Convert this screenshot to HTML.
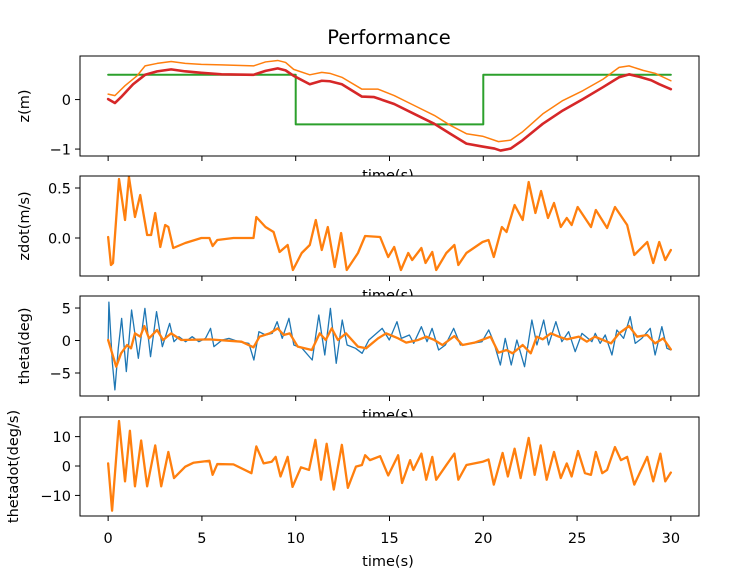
<!DOCTYPE html>
<html><head><meta charset="utf-8"><style>
html,body{margin:0;padding:0;background:#fff;}
svg{display:block;font-family:"DejaVu Sans","Liberation Sans",sans-serif;}
</style></head><body>
<svg id="fig" width="734" height="569" viewBox="0 0 734 569">
<text x="389" y="44" font-size="19.5" text-anchor="middle">Performance</text>
</svg>
<script>
// ---- Panel 1: z(m)
const zRefT = [0, 10, 10, 20, 20, 30];
const zRefV = [0.5, 0.5, -0.5, -0.5, 0.5, 0.5];
const zRedT = [0,0.36,0.69,1.33,1.97,2.61,3.36,4.11,4.97,6.04,7.75,8.39,9.04,9.46,9.89,10.75,11.39,11.82,12.46,13.53,14.18,15.25,16.32,17.39,18.24,19.1,19.96,20.6,20.92,21.46,22.1,23.17,24.24,25.31,26.38,27.24,27.77,28.31,28.95,29.38,30];
const zRedV = [0.01,-0.07,0.05,0.31,0.5,0.57,0.61,0.57,0.54,0.51,0.5,0.58,0.63,0.59,0.48,0.31,0.38,0.37,0.31,0.06,0.05,-0.09,-0.29,-0.49,-0.69,-0.89,-0.95,-0.99,-1.03,-0.99,-0.82,-0.49,-0.22,0.01,0.25,0.45,0.51,0.46,0.39,0.31,0.21];
const zOrgT = [0,0.36,0.9,1.54,1.97,2.61,3.36,4.11,4.97,6.04,7.75,8.39,9.04,9.46,9.89,10.75,11.39,11.82,12.46,13.53,14.39,15.25,16.32,17.39,18.24,19.1,19.96,20.81,21.46,22.1,23.17,24.24,25.31,26.38,27.24,27.77,28.52,29.16,30];
const zOrgV = [0.11,0.08,0.28,0.48,0.68,0.73,0.77,0.73,0.71,0.7,0.68,0.76,0.79,0.75,0.61,0.5,0.55,0.53,0.45,0.21,0.21,0.08,-0.12,-0.32,-0.52,-0.69,-0.74,-0.85,-0.82,-0.65,-0.29,-0.02,0.18,0.41,0.65,0.68,0.59,0.53,0.38];
// ---- Panel 2: zdot
const zdT = [0,0.15,0.26,0.58,0.9,1.11,1.43,1.71,2.08,2.29,2.51,2.78,3.04,3.21,3.47,4.11,4.97,5.4,5.57,5.82,6.68,7.75,7.9,8.39,8.82,9.14,9.57,9.85,10.32,10.75,11.07,11.39,11.71,12.08,12.42,12.72,13.32,13.7,14.5,14.93,15.25,15.61,16,16.21,16.7,16.92,17.28,17.49,18.03,18.46,18.67,19.1,19.96,20.28,20.56,20.99,21.24,21.67,22.1,22.42,22.78,23.08,23.45,23.77,24.13,24.45,24.71,25.03,25.74,26,26.6,27.02,27.67,28.05,28.74,29.06,29.38,29.7,30];
const zdV = [0.01,-0.27,-0.25,0.59,0.18,0.61,0.21,0.43,0.03,0.03,0.25,-0.09,0.13,0.11,-0.1,-0.05,0,0,-0.08,-0.02,0,0,0.21,0.11,0.06,-0.14,-0.07,-0.32,-0.15,-0.07,0.18,-0.12,0.11,-0.29,0.05,-0.32,-0.15,0.02,0.01,-0.19,-0.09,-0.32,-0.15,-0.22,-0.1,-0.25,-0.14,-0.32,-0.15,-0.07,-0.27,-0.15,-0.04,-0.02,-0.19,0.11,0.06,0.33,0.18,0.56,0.25,0.47,0.2,0.35,0.11,0.2,0.13,0.31,0.11,0.28,0.1,0.31,0.13,-0.17,-0.04,-0.25,-0.04,-0.22,-0.12];
// ---- Panel 3: theta
const thBlueT = [0,0.04,0.22,0.36,0.54,0.72,0.97,1.25,1.61,1.96,2.26,2.58,2.89,3.28,3.51,3.77,4.13,4.48,4.84,5.19,5.46,5.64,6.08,6.44,6.97,7.5,7.77,8.04,8.39,8.75,9.01,9.28,9.64,9.9,10.34,10.88,11.23,11.55,11.85,12.16,12.48,12.74,13.19,13.54,13.9,14.61,14.99,15.4,15.63,16.06,16.29,16.7,17.0,17.27,17.62,17.98,18.42,18.78,19.4,19.93,20.29,20.55,20.91,21.17,21.49,21.79,22.2,22.59,22.86,23.22,23.48,23.87,24.19,24.55,24.9,25.26,25.79,25.97,26.23,26.5,26.86,27.12,27.48,27.83,28.1,28.45,28.9,29.16,29.52,29.79,30];
const thBlueV = [0.08,5.9,-3.26,-7.6,-1.2,3.41,-4.79,4.69,-2.74,4.95,-2.49,4.44,-0.95,2.64,-0.18,0.59,-0.18,0.59,-0.18,0.33,1.87,-0.95,0.08,0.33,-0.18,-0.44,-3.0,1.36,0.85,1.1,2.9,0.33,3.41,-0.69,-1.2,-3.0,3.92,-2.23,4.95,-3.51,3.15,-0.69,-1.2,-1.97,0.08,1.87,0.08,2.9,0.33,0.85,-0.44,2.13,-0.18,1.87,-1.46,-0.69,1.87,-0.69,-0.44,-0.18,1.62,-0.18,-3.77,0.33,-3.77,0.08,-4.03,3.15,-0.69,3.15,-0.69,2.9,-0.18,1.36,-1.72,1.1,-0.18,1.1,-0.44,0.85,-2.23,1.62,0.33,3.67,-0.44,0.33,1.87,-2.23,2.13,-1.2,-1.46];
const thOrgT = [0,0.43,0.69,1.01,1.22,1.43,1.71,1.93,2.18,2.61,2.93,3.36,3.9,5.4,7.11,7.75,8.07,8.61,9.04,9.36,9.68,10.11,10.86,11.28,11.6,11.92,12.25,12.68,13.32,13.75,14.39,14.82,15.46,15.89,16.53,16.96,17.39,17.82,18.46,18.89,19.53,20.39,20.81,21.24,21.56,22.1,22.53,22.85,23.17,23.6,24.03,24.45,25.1,25.52,25.95,26.81,27.24,27.77,28.2,28.74,29.16,29.59,30];
const thOrgV = [0.08,-4.03,-1.97,-0.69,-1.2,1.1,0.59,2.23,0.33,1.62,0.08,1.1,0.08,0.18,-0.18,-1.05,0.59,1.1,1.87,0.85,1.1,-0.95,-1.46,1.1,0.08,1.87,0.08,1.1,-0.95,-1.2,0.33,1.1,0.33,-0.33,0.08,0.59,0.08,-0.69,0.69,-0.69,-0.33,0.59,-1.87,-1.46,-1.97,-0.69,-1.97,0.59,0.18,1.1,0.59,0.18,0.59,-0.18,0.59,-0.44,1.1,2.23,0.59,0.85,-0.44,0.33,-1.36];
// ---- Panel 4: thetadot
const tdT = [0,0.21,0.58,0.9,1.16,1.43,1.76,2.08,2.51,2.83,3.21,3.51,4.11,4.54,5.4,5.57,5.82,6.68,7.64,7.9,8.29,8.72,8.93,9.19,9.57,9.83,10.28,10.71,11.05,11.35,11.65,12.03,12.46,12.78,13.21,13.53,13.7,13.96,14.5,14.93,15.46,15.67,16.1,16.27,16.7,16.96,17.28,17.49,18.03,18.46,18.67,19.1,19.96,20.28,20.56,21.03,21.31,21.67,21.99,22.42,22.74,23.06,23.38,23.77,24.13,24.45,24.71,25.05,25.42,25.74,26,26.34,26.6,27.02,27.34,27.67,28.05,28.74,29.06,29.44,29.7,30];
const tdV = [0.89,-15.2,15.3,-5.22,12,-6.9,8.67,-6.9,7,-6.9,4.78,-4.1,-0.22,1.1,1.78,-3,0.67,0.56,-2.44,6.67,0.89,1.44,3.11,-3.55,3.11,-7.1,-0.44,-1.33,8.9,-4.67,7.56,-8,7.2,-7.44,-0.22,0.33,3.67,2,3.33,-3.22,3.67,-5.78,2,-1.33,4.22,-4.67,3.11,-4.67,0.33,4.22,-4.67,0.33,1.44,2.22,-6.33,4.45,-3.55,5.89,-4.1,9.56,-3,7,-4.67,4.78,-4.1,0.89,-3.55,5.11,-2.44,-3,4.78,-2.44,-1.33,6.45,2,3.11,-6.33,3.11,-5.22,4.22,-5.22,-2.22];
const xTicks = [0,5,10,15,20,25,30];

const svg = document.getElementById('fig');
const NS = 'http://www.w3.org/2000/svg';
const AX_L = 80, AX_R = 699, XMIN = -1.5, XMAX = 31.5;
const FS = 14.5;
function xs(t){ return AX_L + (t - XMIN) / (XMAX - XMIN) * (AX_R - AX_L); }
function mk(tag, attrs){ const e = document.createElementNS(NS, tag); for (const k in attrs) e.setAttribute(k, attrs[k]); return e; }

const panels = [
  {name:'z', top:56, bot:156, ymin:-1.14, ymax:0.88, yt:[0,-1], yl:['0','−1'], label:'z(m)', lx:29},
  {name:'zdot', top:176, bot:276, ymin:-0.38, ymax:0.62, yt:[0.5,0], yl:['0.5','0.0'], label:'zdot(m/s)', lx:29},
  {name:'theta', top:296, bot:396, ymin:-8.54, ymax:6.85, yt:[5,0,-5], yl:['5','0','−5'], label:'theta(deg)', lx:29},
  {name:'thetadot', top:417, bot:516, ymin:-17, ymax:16.67, yt:[10,0,-10], yl:['10','0','−10'], label:'thetadot(deg/s)', lx:18}
];
panels.forEach((p, i) => {
  const g = mk('g', {});
  
  
  svg.appendChild(g);
  p.ys = v => p.bot - (v - p.ymin) / (p.ymax - p.ymin) * (p.bot - p.top);
  p.g = g;
  const bg = mk('rect', {x: AX_L, y: p.top, width: AX_R - AX_L, height: p.bot - p.top, fill: '#fff'});
  
  
  g.appendChild(bg);
  const clipId = 'clip' + i;
  const cp = mk('clipPath', {id: clipId});
  cp.appendChild(mk('rect', {x: AX_L, y: p.top, width: AX_R - AX_L, height: p.bot - p.top}));
  g.appendChild(cp);
  p.plot = mk('g', {'clip-path': 'url(#' + clipId + ')'});
  
  
  g.appendChild(p.plot);
  xTicks.forEach(t => {
    const tk = mk('line', {x1: xs(t), x2: xs(t), y1: p.bot, y2: p.bot + 5, stroke: '#000', 'stroke-width': 1});
    
    
    g.appendChild(tk);
    if (i === 3) {
      const tl = mk('text', {x: xs(t), y: p.bot + 27, 'font-size': FS, 'text-anchor': 'middle'});
      tl.textContent = String(t);
      
      
      g.appendChild(tl);
    }
  });
  p.yt.forEach((v, j) => {
    const y = p.ys(v);
    const tk = mk('line', {x1: AX_L - 5, x2: AX_L, y1: y, y2: y, stroke: '#000', 'stroke-width': 1});
    
    
    g.appendChild(tk);
    const tl = mk('text', {x: AX_L - 9, y: y + 5.5, 'font-size': FS, 'text-anchor': 'end'});
    tl.textContent = p.yl[j];
    
    
    g.appendChild(tl);
  });
  const yl = mk('text', {x: p.lx, y: (p.top + p.bot) / 2, 'font-size': FS, 'text-anchor': 'middle', transform: 'rotate(-90 ' + p.lx + ' ' + ((p.top + p.bot) / 2) + ')'});
  yl.textContent = p.label;
  
  
  g.appendChild(yl);
  const xl = mk('text', {x: 388, y: i === 3 ? 566 : p.bot + 24, 'font-size': FS, 'text-anchor': 'middle'});
  xl.textContent = 'time(s)';
  
  
  g.appendChild(xl);
});

function line(p, T, V, color, w, name){
  let d = '';
  for (let k = 0; k < T.length; k++) d += (k ? 'L' : 'M') + xs(T[k]).toFixed(2) + ' ' + p.ys(V[k]).toFixed(2);
  const path = mk('path', {d: d, fill: 'none', stroke: color, 'stroke-width': w, 'stroke-linejoin': 'round', 'stroke-linecap': 'round'});
  
  
  p.plot.appendChild(path);
}
const P = panels;
line(P[0], zRefT, zRefV, '#2ca02c', 2, 'z-reference-line');
line(P[0], zOrgT, zOrgV, '#ff7f0e', 1.5, 'z-estimate-line');
line(P[0], zRedT, zRedV, '#d62728', 2.6, 'z-actual-line');
line(P[1], zdT, zdV, '#1f77b4', 1.3, 'zdot-true-line');
line(P[1], zdT, zdV, '#ff7f0e', 2.3, 'zdot-estimate-line');
line(P[2], thBlueT, thBlueV, '#1f77b4', 1.3, 'theta-true-line');
line(P[2], thOrgT, thOrgV, '#ff7f0e', 2.3, 'theta-estimate-line');
line(P[3], tdT, tdV, '#1f77b4', 1.3, 'thetadot-true-line');
line(P[3], tdT, tdV, '#ff7f0e', 2.3, 'thetadot-estimate-line');

panels.forEach(p => {
  const r = mk('rect', {x: AX_L, y: p.top, width: AX_R - AX_L, height: p.bot - p.top, fill: 'none', stroke: '#000', 'stroke-width': 1});
  
  
  p.g.appendChild(r);
});
</script>
</body></html>
